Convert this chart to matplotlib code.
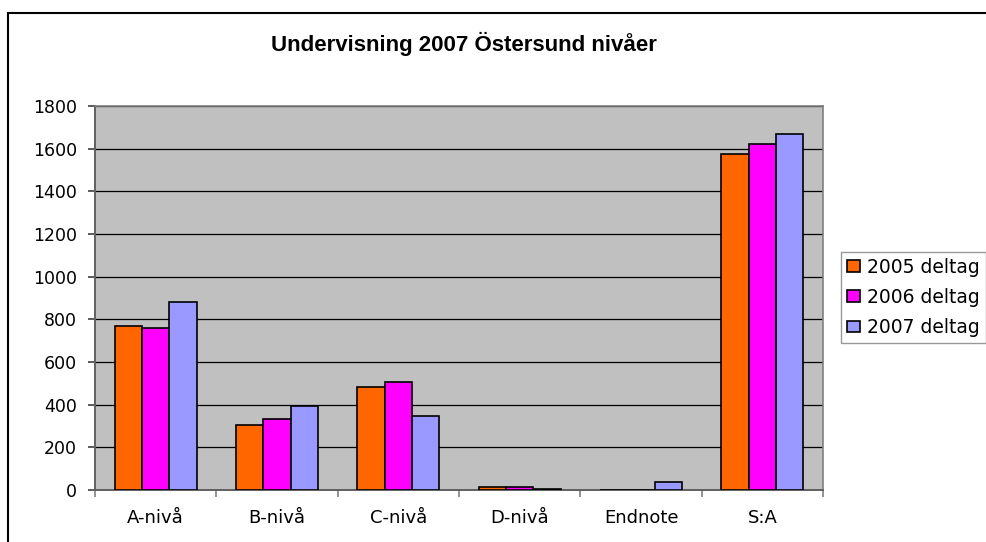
import matplotlib
matplotlib.use("Agg")
import matplotlib.pyplot as plt
from matplotlib.patches import Rectangle
import numpy as np

categories = ["A-nivå", "B-nivå", "C-nivå", "D-nivå", "Endnote", "S:A"]
series_names = ["2005 deltag", "2006 deltag", "2007 deltag"]
values_2005 = [767, 304, 482, 16, 0, 1575]
values_2006 = [759, 331, 508, 16, 0, 1620]
values_2007 = [881, 394, 345, 5, 39, 1667]
colors = ["#FF6600", "#FF00FF", "#9999FF"]
title = "Undervisning 2007 Östersund nivåer"
yticks = [0, 200, 400, 600, 800, 1000, 1200, 1400, 1600, 1800]

plt.rcParams['font.family'] = ['DejaVu Sans']

W, H = 986, 542
fig = plt.figure(figsize=(W / 100, H / 100), dpi=100)
fig.patch.set_facecolor("white")

# outer chart border
fig.patches.append(Rectangle((8 / W, -0.1), 1.2, (1 - 13 / H) + 0.1,
                             transform=fig.transFigure, fill=False,
                             edgecolor="black", linewidth=1.5, zorder=0))

ax = fig.add_axes([95 / W, 1 - 490 / H, (823 - 95) / W, (490 - 106) / H])
ax.set_facecolor("#C0C0C0")

x = np.arange(len(categories))
bw = 0.225
for i, (vals, name, c) in enumerate(zip([values_2005, values_2006, values_2007], series_names, colors)):
    ax.bar(x + (i - 1) * bw, vals, width=bw, color=c, edgecolor="black",
           linewidth=1.2, label=name, zorder=3)

ax.set_xlim(-0.5, len(categories) - 0.5)
ax.set_ylim(0, 1800)
ax.set_yticks(yticks)
ax.set_yticklabels([str(t) for t in yticks], fontsize=12.5)
ax.yaxis.grid(True, color="black", linewidth=0.9, zorder=1)
ax.set_axisbelow(True)

ax.set_xticks(x)
ax.set_xticklabels(categories, fontsize=13)
ax.set_xticks(np.arange(-0.5, len(categories)), minor=True)
ax.tick_params(axis="x", which="major", length=0, pad=14)
ax.tick_params(axis="x", which="minor", length=5, color="#808080", width=1.2)
ax.tick_params(axis="y", length=5, color="#404040", width=1.2, pad=8)

for s in ["top", "right"]:
    ax.spines[s].set_color("#808080")
    ax.spines[s].set_linewidth(1.2)
for s in ["left", "bottom"]:
    ax.spines[s].set_color("#606060")
    ax.spines[s].set_linewidth(1.4)

fig.text(464 / W, 1 - 44 / H, title, ha="center", va="center",
         fontsize=16, fontweight="bold", family=["Liberation Sans", "DejaVu Sans"])

leg = fig.legend(loc="upper left", bbox_to_anchor=(841 / W, 1 - 252 / H),
                 bbox_transform=fig.transFigure, fontsize=13.5, frameon=True,
                 fancybox=False, handlelength=0.7, handleheight=0.6,
                 handletextpad=0.4, borderpad=0.3, labelspacing=0.6,
                 borderaxespad=0)
leg.get_frame().set_edgecolor("#808080")
leg.get_frame().set_linewidth(1.0)

fig.savefig("out.png", dpi=100)
